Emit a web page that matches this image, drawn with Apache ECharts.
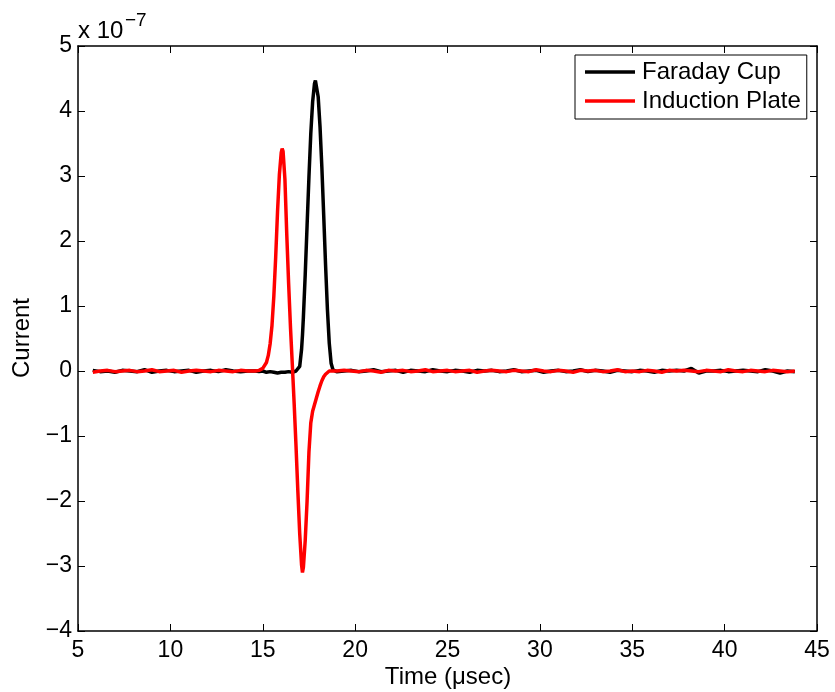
<!DOCTYPE html>
<html>
<head>
<meta charset="utf-8">
<script src="https://cdn.jsdelivr.net/npm/echarts@6/dist/echarts.min.js"></script>
<style>
html,body{margin:0;padding:0;background:#fff;}
#chart{width:835px;height:692px;}
</style>
</head>
<body>
<div id="chart"></div>
<script>
// Values in units of 1e-7 A (axis shows "x 10^-7")
const time = [
  5.8,6.2,6.6,7.0,7.4,7.8,8.2,8.6,9.0,9.4,9.8,10.2,10.6,11.0,11.4,11.8,12.2,12.6,13.0,13.4,13.8,14.2,
  14.6,14.7,14.8,14.9,15.0,15.1,15.2,15.3,15.4,15.5,15.6,15.7,15.8,15.9,16.0,16.05,16.1,16.2,16.3,16.4,16.5,16.6,16.7,16.8,16.9,17.0,17.1,17.15,17.2,17.3,17.4,17.5,17.6,17.7,17.8,17.85,17.9,18.0,18.1,18.2,18.3,18.4,18.5,18.6,18.7,18.8,18.9,19.0,
  19.4,19.8,20.2,20.6,21.0,21.4,21.8,22.2,22.6,23.0,
  23.4,23.8,24.2,24.6,25.0,25.4,25.8,26.2,26.6,27.0,
  27.4,27.8,28.2,28.6,29.0,29.4,29.8,30.2,30.6,31.0,
  31.4,31.8,32.2,32.6,33.0,33.4,33.8,34.2,34.6,35.0,
  35.4,35.8,36.2,36.6,37.0,37.4,37.8,38.2,38.6,39.0,
  39.4,39.8,40.2,40.6,41.0,41.4,41.8,42.2,42.6,43.0,
  43.4,43.8
];
const faradayCup = [
  0.01,-0.01,0.00,-0.02,0.01,0.00,-0.01,0.02,-0.02,0.00,0.01,-0.01,0.00,0.01,-0.02,0.00,0.01,-0.01,0.02,0.00,-0.01,0.00,
  0.00,-0.01,-0.01,0.00,0.00,-0.01,-0.02,-0.02,-0.01,-0.01,-0.02,-0.03,-0.03,-0.02,-0.02,-0.02,-0.03,-0.02,-0.01,-0.01,-0.03,-0.02,-0.02,0.00,0.01,0.07,0.33,0.55,0.83,1.49,2.24,2.98,3.65,4.14,4.42,4.47,4.45,4.22,3.76,3.13,2.39,1.63,0.95,0.43,0.12,0.02,0.00,-0.01,
  0.00,0.01,-0.01,0.00,0.02,-0.01,0.00,0.01,-0.02,0.01,
  0.00,-0.01,0.02,0.00,-0.01,0.01,0.00,-0.02,0.01,0.00,
  0.01,-0.01,0.00,0.02,-0.01,0.00,0.01,-0.02,0.00,0.01,
  -0.01,0.00,0.02,-0.01,0.01,0.00,-0.02,0.01,0.00,-0.01,
  0.01,0.00,-0.02,0.01,0.00,0.01,0.00,0.04,-0.03,0.00,
  0.00,0.01,-0.01,0.00,0.01,0.00,-0.01,0.02,0.00,-0.03,
  0.00,-0.01
];
const inductionPlate = [
  -0.02,0.00,0.01,-0.01,0.00,0.01,-0.01,0.00,0.02,-0.01,0.00,0.01,-0.02,0.00,0.01,0.00,-0.01,0.01,0.00,-0.01,0.01,0.00,
  0.00,0.00,0.01,0.02,0.04,0.07,0.13,0.24,0.42,0.70,1.15,1.75,2.45,3.02,3.36,3.42,3.38,2.95,2.10,1.35,0.68,0.10,-0.50,-1.15,-1.85,-2.50,-2.98,-3.10,-3.02,-2.60,-2.00,-1.25,-0.80,-0.62,-0.52,-0.47,-0.42,-0.32,-0.23,-0.15,-0.09,-0.05,-0.02,0.00,0.01,0.00,-0.01,0.00,
  0.01,0.00,-0.01,0.01,0.00,-0.02,0.01,0.00,0.01,-0.01,
  0.00,0.02,-0.01,0.00,0.01,-0.01,0.00,0.01,-0.02,0.00,
  0.01,0.00,-0.01,0.01,0.00,-0.01,0.02,0.00,-0.01,0.01,
  0.00,-0.02,0.01,0.00,0.01,-0.01,0.00,0.02,-0.01,0.00,
  -0.01,0.01,0.00,-0.02,0.01,0.00,0.01,0.00,-0.01,0.01,
  0.00,-0.01,0.02,0.00,-0.01,0.01,0.00,-0.01,0.01,0.00,
  -0.01,0.00
];
const seriesNames = ['Faraday Cup', 'Induction Plate'];
const xTicks = {min: 5, max: 45, interval: 5};
const yTicks = {min: -4, max: 5, interval: 1};

const FONT = 'Liberation Sans, Arial, Helvetica, sans-serif';
const pairs = arr => time.map((t, i) => [t, arr[i]]);
const fmtY = v => v < 0 ? '\u2212' + Math.abs(v) : String(v);

const axisCommon = {
  axisLine: {show: true, onZero: false, lineStyle: {color: '#000', width: 1.5}},
  axisTick: {show: true, inside: true, length: 7, lineStyle: {color: '#000', width: 1}},
  splitLine: {show: false}
};

const chart = echarts.init(document.getElementById('chart'), null, {renderer: 'canvas'});
chart.setOption({
  animation: false,
  backgroundColor: '#fff',
  grid: {left: 78, right: 18, top: 46, bottom: 61, containLabel: false},
  xAxis: [
    Object.assign({type: 'value', position: 'bottom', min: xTicks.min, max: xTicks.max, interval: xTicks.interval,
      axisLabel: {color: '#000', fontSize: 23, fontFamily: FONT, margin: 8}}, axisCommon),
    Object.assign({type: 'value', position: 'top', min: xTicks.min, max: xTicks.max, interval: xTicks.interval,
      axisLabel: {show: false}}, axisCommon)
  ],
  yAxis: [
    Object.assign({type: 'value', position: 'left', min: yTicks.min, max: yTicks.max, interval: yTicks.interval,
      axisLabel: {color: '#000', fontSize: 23, fontFamily: FONT, margin: 6, formatter: fmtY}}, axisCommon),
    Object.assign({type: 'value', position: 'right', min: yTicks.min, max: yTicks.max, interval: yTicks.interval,
      axisLabel: {show: false}}, axisCommon)
  ],
  legend: {
    orient: 'vertical',
    left: 575, top: 55,
    padding: [5, 6, 6, 10],
    itemGap: 5,
    icon: 'rect',
    itemWidth: 50, itemHeight: 3.5,
    backgroundColor: '#fff',
    borderColor: '#000', borderWidth: 1, borderRadius: 0,
    textStyle: {color: '#000', fontSize: 24, fontFamily: FONT, lineHeight: 24, padding: [0, 0, 0, 2]},
    data: seriesNames
  },
  series: [
    {name: seriesNames[0], type: 'line', data: pairs(faradayCup), showSymbol: false, symbol: 'none',
      lineStyle: {color: '#000', width: 3.5}, itemStyle: {color: '#000'}, z: 2},
    {name: seriesNames[1], type: 'line', data: pairs(inductionPlate), showSymbol: false, symbol: 'none',
      lineStyle: {color: '#ff0000', width: 3.5}, itemStyle: {color: '#ff0000'}, z: 3}
  ],
  graphic: [
    {type: 'text', x: 78, y: 31, style: {text: 'x 10', font: '24px ' + FONT, fill: '#000', align: 'left', verticalAlign: 'middle'}},
    {type: 'text', x: 125, y: 21, style: {text: '\u22127', font: '19px ' + FONT, fill: '#000', align: 'left', verticalAlign: 'middle'}},
    {type: 'text', x: 448, y: 677, style: {text: 'Time (\u03bcsec)', font: '24px ' + FONT, fill: '#000', align: 'center', verticalAlign: 'middle'}},
    {type: 'text', x: 22, y: 338, rotation: Math.PI / 2, style: {text: 'Current', font: '24px ' + FONT, fill: '#000', align: 'center', verticalAlign: 'middle'}}
  ]
});
</script>
</body>
</html>
